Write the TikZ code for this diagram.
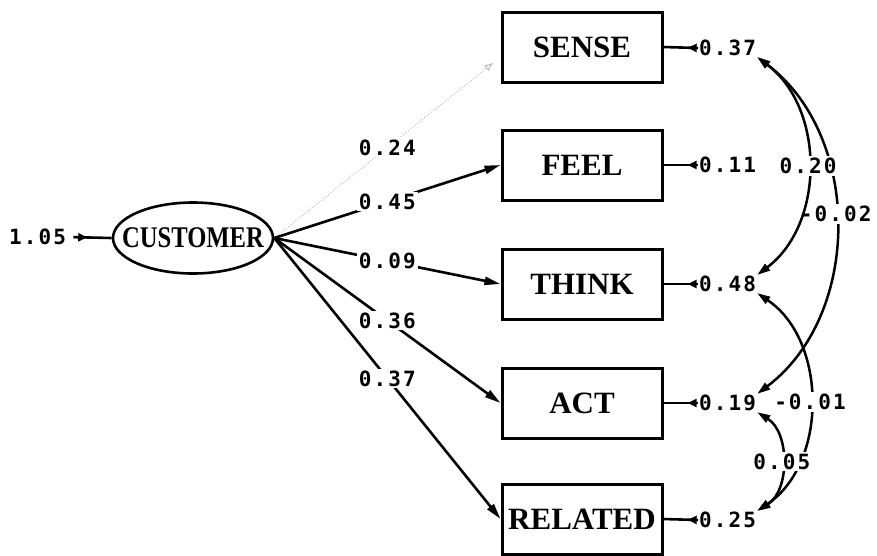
\documentclass[tikz,border=0pt]{standalone}
\usepackage{fontspec}
\usetikzlibrary{arrows.meta,decorations.markings,shapes.geometric}
\newfontfamily\numfont[LetterSpace=10]{DejaVu Sans Mono}
\newfontfamily\boxfont{Liberation Serif}
\newfontfamily\latfont[FakeStretch=0.82]{Liberation Serif}

\tikzset{
  var/.style={draw, line width=3pt, minimum width=160pt, minimum height=70pt,
    inner sep=0pt, font=\boxfont\bfseries\fontsize{31}{31}\selectfont},
  lat/.style={ellipse, draw, line width=2.6pt, minimum width=160pt, minimum height=71pt,
    inner sep=0pt, font=\latfont\bfseries\fontsize{30}{30}\selectfont},
  num/.style={font=\numfont\bfseries\fontsize{21}{21}\selectfont, inner sep=1pt},
  coef/.style={num, fill=white, inner sep=2pt},
  load/.style={line width=2.6pt, -{Triangle[length=16pt,width=8pt]}},
  weak/.style={line width=1pt, gray!55, dotted, -{Latex[open,length=9pt,width=7pt]}},
  errline/.style={line width=2.6pt, postaction={decorate},
    decoration={markings, mark=at position #1 with {\arrow{Triangle[length=9pt,width=8pt]}}}},
  cov/.style={line width=2.5pt, {Triangle[length=13pt,width=8pt]}-{Triangle[length=13pt,width=8pt]}}
}

\begin{document}
\begin{tikzpicture}[x=1pt,y=1pt]
  \fill[white] (0,0) rectangle (877,-555);
  \useasboundingbox (0,0) rectangle (877,-555);

  % latent factor and its variance
  \node[lat] (cust) at (193,-238) {\makebox[0pt]{CUSTOMER}};
  \node[num, anchor=west] (v0) at (8,-237) {1.05};

  % observed indicators
  \node[var] (sense) at (582,-47)  {SENSE};
  \node[var] (feel)  at (582,-165) {FEEL};
  \node[var] (think) at (582,-284) {THINK};
  \node[var] (act)   at (582,-403) {ACT};
  \node[var] (rel)   at (582,-519) {RELATED};

  % error variances
  \node[num, anchor=west] (e1) at (698,-48)  {0.37};
  \node[num, anchor=west] (e2) at (698,-165) {0.11};
  \node[num, anchor=west] (e3) at (698,-284) {0.48};
  \node[num, anchor=west] (e4) at (698,-403) {0.19};
  \node[num, anchor=west] (e5) at (698,-520) {0.25};

  \draw[errline=0.45, shorten <=6pt] (v0.east) -- (cust.west);
  \foreach \e/\v in {e1/sense, e2/feel, e3/think, e4/act, e5/rel}
    \draw[errline=0.3] (\e.west) -- (\v.east);

  % factor loadings
  \draw[weak, shorten >=9pt] (cust.east) -- node[coef, pos=0.5, text=black] {0.24} (sense.187);
  \draw[load] (cust.east) -- node[coef, pos=0.5] {0.45} (feel.west);
  \draw[load] (cust.east) -- node[coef, pos=0.5] {0.09} (think.west);
  \draw[load] (cust.east) -- node[coef, pos=0.5] {0.36} (act.west);
  \draw[load] (cust.east) -- node[coef, pos=0.5] {0.37} (rel.west);

  % error covariances
  \draw[cov] (e1.south east) to[bend left=53] node[coef, pos=0.47] {-0.02} (e4.north east);
  \draw[cov] (e1.south east) to[bend left=53] node[coef] {0.20} (e3.north east);
  \draw[cov] (e3.south east) to[bend left=56] node[coef] {-0.01} (e5.north east);
  \draw[cov] (e4.south east) to[bend left=58] node[coef] {0.05} (e5.north east);
\end{tikzpicture}
\end{document}
